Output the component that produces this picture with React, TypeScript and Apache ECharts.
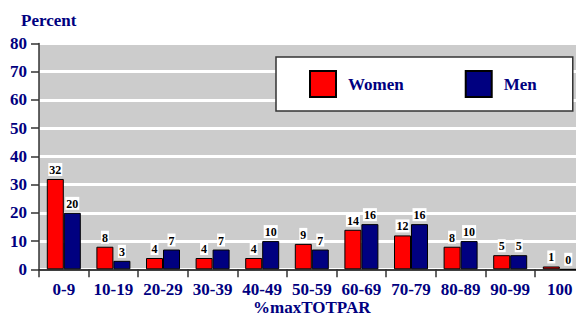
import React, { useEffect, useRef } from "react";
import * as echarts from "echarts";

const categories = ["0-9", "10-19", "20-29", "30-39", "40-49", "50-59", "60-69", "70-79", "80-89", "90-99", "100"];
const women = [32, 8, 4, 4, 4, 9, 14, 12, 8, 5, 1];
const men = [20, 3, 7, 7, 10, 7, 16, 16, 10, 5, 0];
const yTicks = { min: 0, max: 80, interval: 10 };

const FONT = "Liberation Serif";
const NAVY = "#000080";

export default function App() {
  const ref = useRef<HTMLDivElement>(null);
  useEffect(() => {
    if (!ref.current) return;
    const chart = echarts.init(ref.current, undefined, { renderer: "svg" });
    const label = {
      show: true,
      position: "top" as const,
      distance: 3,
      color: "#000",
      fontFamily: FONT,
      fontWeight: "bold" as const,
      fontSize: 12,
      backgroundColor: "#fff",
      padding: [1, 1, 0, 1],
    };
    chart.setOption({
      animation: false,
      textStyle: { fontFamily: FONT },
      title: {
        text: "Percent",
        left: 16,
        top: 7,
        textStyle: { color: NAVY, fontFamily: FONT, fontWeight: "bold", fontSize: 17 },
      },
      legend: {
        left: 276,
        top: 57,
        orient: "horizontal",
        backgroundColor: "#fff",
        borderColor: "#333",
        borderWidth: 1.5,
        borderRadius: 0,
        padding: [13, 36, 13, 33],
        itemWidth: 26,
        itemHeight: 26,
        itemGap: 61,
        icon: "rect",
        textStyle: {
          color: NAVY,
          fontFamily: FONT,
          fontWeight: "bold",
          fontSize: 17,
          padding: [0, 0, 0, 7],
        },
        data: ["Women", "Men"],
      },
      grid: {
        left: 39,
        top: 43.5,
        width: 545.6,
        height: 225.8,
        show: true,
        backgroundColor: "#cccccc",
        borderWidth: 0,
        containLabel: false,
        outerBoundsMode: "none",
      },
      xAxis: {
        type: "category",
        data: categories,
        name: "%maxTOTPAR",
        nameLocation: "middle",
        nameGap: 30,
        nameMoveOverlap: false,
        nameTextStyle: { color: NAVY, fontFamily: FONT, fontWeight: "bold", fontSize: 17 },
        axisLine: { show: true, lineStyle: { color: "#000", width: 1.5 } },
        axisTick: { show: true, length: 8, lineStyle: { color: "#333", width: 1.5 } },
        axisLabel: { color: NAVY, fontFamily: FONT, fontWeight: "bold", fontSize: 17, margin: 12, interval: 0 },
        splitLine: { show: false },
      },
      yAxis: {
        type: "value",
        min: yTicks.min,
        max: yTicks.max,
        interval: yTicks.interval,
        axisLine: { show: true, lineStyle: { color: "#333", width: 1.5 } },
        axisTick: { show: true, length: 8, lineStyle: { color: "#333", width: 1.5 } },
        axisLabel: { color: NAVY, fontFamily: FONT, fontWeight: "bold", fontSize: 17, margin: 12 },
        splitLine: { show: true, lineStyle: { color: "#fff", width: 3 } },
      },
      series: [
        {
          name: "Women",
          type: "bar",
          data: women,
          barWidth: 17,
          barGap: "0%",
          itemStyle: { color: "#ff0000", borderColor: "#000", borderWidth: 1 },
          label,
        },
        {
          name: "Men",
          type: "bar",
          data: men,
          barWidth: 17,
          barGap: "0%",
          itemStyle: { color: NAVY, borderColor: "#000", borderWidth: 1 },
          label,
        },
      ],
    });
    return () => chart.dispose();
  }, []);
  return (
    <div
      ref={ref}
      style={{ position: "fixed", left: 0, top: 0, width: 576, height: 316, background: "#fff" }}
    />
  );
}
